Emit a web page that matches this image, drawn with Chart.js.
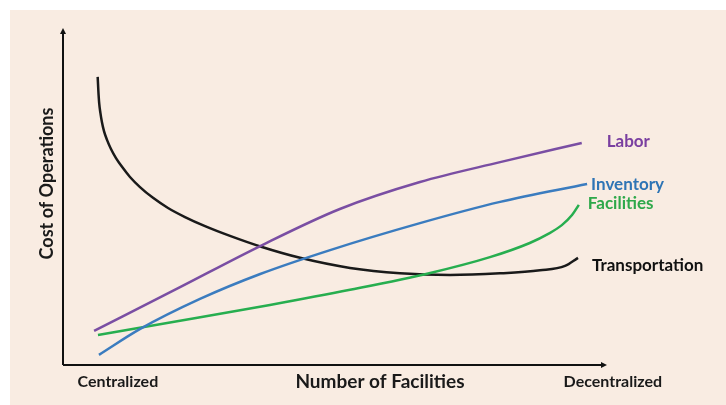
<!DOCTYPE html>
<html>
<head>
<meta charset="utf-8">
<script src="https://cdn.jsdelivr.net/npm/chart.js@4"></script>
<style>
  html, body { margin: 0; padding: 0; background: #fff; }
  #wrap { width: 726px; height: 405px; }
</style>
</head>
<body>
<div id="wrap"><canvas id="cost-chart"></canvas></div>
<script>
// x = relative number of facilities (0 = centralized, 100 = decentralized), y = cost
var labor = [[-0.6, 10.1], [17.1, 23.1], [33.6, 35.3], [50.0, 46.3], [66.5, 54.3], [83.0, 60.2], [99.8, 65.9]];
var inventory = [[0.4, 3.0], [8.9, 10.7], [21.2, 19.6], [33.6, 27.0], [48.0, 34.1], [66.5, 42.1], [83.0, 48.4], [100.9, 53.7]];
var facilities = [[0.2, 8.9], [17.1, 13.1], [35.6, 17.8], [52.1, 22.3], [68.6, 27.3], [80.9, 32.0], [89.1, 36.2], [92.9, 38.9], [95.7, 41.5], [97.8, 44.5], [99.2, 47.5]];
var transportation = [[0.14, 85.5], [0.27, 81.6], [0.45, 77.7], [0.70, 74.8], [1.01, 72.1], [1.44, 69.4], [2.06, 66.8], [2.88, 64.1], [3.91, 61.4], [5.15, 58.8], [6.79, 55.8], [8.85, 52.8], [11.53, 49.6], [14.62, 46.6], [18.12, 43.9], [22.24, 41.2], [27.38, 38.3], [33.97, 35.0], [41.8, 31.8], [52.09, 28.8], [62.38, 27.2], [72.68, 26.7], [82.97, 27.2], [91.21, 28.1], [96.36, 29.4], [99.03, 31.8]];

var seriesNames = ["Labor", "Inventory", "Facilities", "Transportation"];
var xTickValues = [4.3, 106.2];
var xTickLabels = ["Centralized", "Decentralized"];
var xTitle = "Number of Facilities";
var yTitle = "Cost of Operations";

var colors = ["#7a4ea3", "#3b7cbf", "#27ae4f", "#1a1a1a"];
var labelColors = ["#7a3fa0", "#2e74b5", "#2ea84a", "#111111"];
var labelOffsets = [[25, -1], [4, 0], [9, -1], [14, 8]];
var font = "Lato, 'Open Sans', sans-serif";

function toPoints(arr) {
  return arr.map(function (p) { return { x: p[0], y: p[1] }; });
}

var series = [labor, inventory, facilities, transportation];

var decor = {
  id: 'decor',
  beforeDraw: function (chart) {
    var c = chart.ctx;
    c.save();
    c.fillStyle = "#f9ece2";
    c.fillRect(10, 10, chart.width - 10, chart.height - 10);
    c.restore();
  },
  afterDraw: function (chart) {
    var c = chart.ctx, a = chart.chartArea;
    var xs = chart.scales.x;
    c.save();
    // axes with arrows
    c.strokeStyle = "#111";
    c.fillStyle = "#111";
    c.lineWidth = 2;
    c.beginPath();
    c.moveTo(a.left, a.bottom);
    c.lineTo(a.left, a.top + 4);
    c.moveTo(a.left, a.bottom);
    c.lineTo(a.right - 4, a.bottom);
    c.stroke();
    c.beginPath();
    c.moveTo(a.left, a.top);
    c.lineTo(a.left - 3, a.top + 6);
    c.lineTo(a.left + 3, a.top + 6);
    c.closePath();
    c.fill();
    c.beginPath();
    c.moveTo(a.right, a.bottom);
    c.lineTo(a.right - 6, a.bottom - 3);
    c.lineTo(a.right - 6, a.bottom + 3);
    c.closePath();
    c.fill();

    // tick labels and titles
    c.textBaseline = "middle";
    c.textAlign = "center";
    c.font = "bold 16px " + font;
    c.fillStyle = "#1a1a1a";
    xTickLabels.forEach(function (t, i) {
      c.fillText(t, xs.getPixelForValue(xTickValues[i]), a.bottom + 17);
    });
    c.font = "bold 19px " + font;
    c.fillText(xTitle, (a.left + a.right) / 2 + 45, a.bottom + 17);
    c.save();
    c.font = "bold 18px " + font;
    c.translate(a.left - 16, (a.top + a.bottom) / 2 - 13);
    c.rotate(-Math.PI / 2);
    c.fillText(yTitle, 0, 0);
    c.restore();

    // series labels at line ends
    c.textAlign = "left";
    c.font = "bold 17px " + font;
    chart.data.datasets.forEach(function (ds, i) {
      var meta = chart.getDatasetMeta(i);
      var last = meta.data[meta.data.length - 1];
      c.fillStyle = labelColors[i];
      c.fillText(seriesNames[i], last.x + labelOffsets[i][0], last.y + labelOffsets[i][1]);
    });
    c.restore();
  }
};

new Chart(document.getElementById("cost-chart"), {
  type: 'line',
  data: {
    datasets: series.map(function (s, i) {
      return {
        label: seriesNames[i],
        data: toPoints(s),
        borderColor: colors[i],
        borderWidth: 2.5,
        pointRadius: 0,
        fill: false,
        cubicInterpolationMode: 'monotone'
      };
    })
  },
  options: {
    responsive: true,
    maintainAspectRatio: false,
    animation: false,
    layout: { padding: { left: 63, right: 119, top: 28, bottom: 40 } },
    plugins: {
      legend: { display: false },
      tooltip: { enabled: false }
    },
    scales: {
      x: { type: 'linear', min: -7, max: 105, display: false },
      y: { min: 0, max: 100, display: false }
    }
  },
  plugins: [decor]
});
</script>
</body>
</html>
